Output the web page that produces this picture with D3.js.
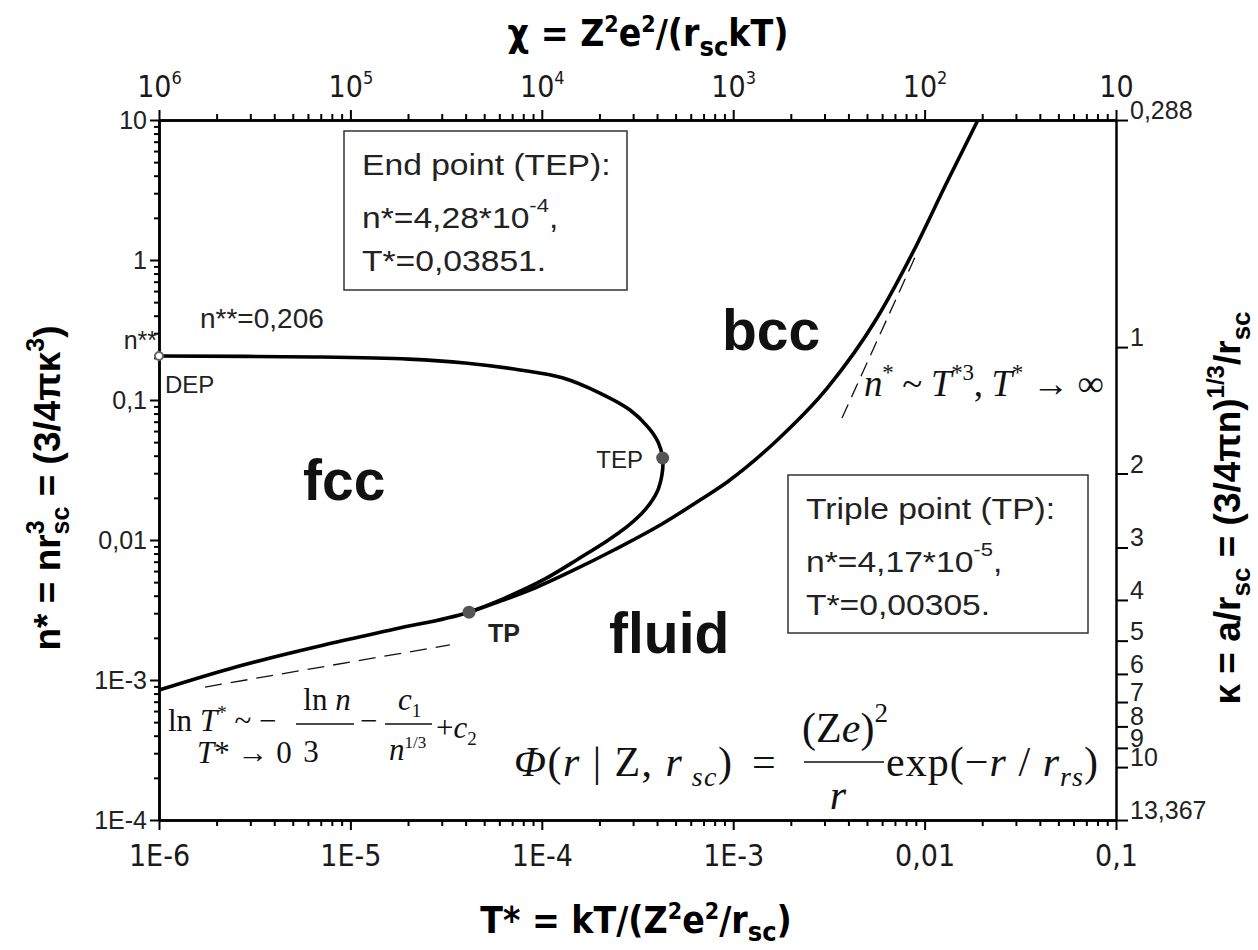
<!DOCTYPE html>
<html>
<head>
<meta charset="utf-8">
<script src="https://cdn.jsdelivr.net/npm/d3@7"></script>
<style>
  body { margin: 0; background: #fff; }
  svg { display: block; }
  .narrow { font-family: "Liberation Sans Narrow", "Arial Narrow", "DejaVu Sans Condensed", sans-serif; }
  .sans { font-family: "Liberation Sans", Arial, sans-serif; }
  .serif { font-family: "Liberation Serif", "Times New Roman", serif; }
</style>
</head>
<body>
<svg width="1258" height="950"></svg>
<script>
// melting line: left edge -> TP -> top edge (T*, n*)
const meltT = [1.0e-6, 2.52e-6, 7.28e-6, 1.71e-5, 4.17e-5, 6.42e-5, 9.33e-5, 1.42e-4, 2.41e-4, 4.20e-4, 6.71e-4, 9.39e-4, 1.69e-3, 3.09e-3, 5.64e-3, 8.70e-3, 1.31e-2, 1.90e-2];
const meltN = [8.48e-4, 1.24e-3, 1.78e-3, 2.31e-3, 3.05e-3, 3.76e-3, 4.58e-3, 5.96e-3, 8.55e-3, 1.29e-2, 1.93e-2, 2.62e-2, 5.14e-2, 0.121, 0.385, 1.14, 3.61, 10];

// fcc-bcc line: DEP -> TEP -> TP
const fccT = [1.0e-6, 6.45e-6, 2.02e-5, 3.97e-5, 7.69e-5, 1.28e-4, 2.01e-4, 2.89e-4, 3.59e-4, 4.05e-4, 4.28e-4, 4.25e-4, 4.00e-4, 3.46e-4, 2.82e-4, 2.19e-4, 1.58e-4, 1.04e-4, 6.42e-5, 4.17e-5];
const fccN = [0.206, 0.203, 0.196, 0.184, 0.164, 0.144, 0.112, 8.48e-2, 6.41e-2, 5.01e-2, 3.851e-2, 2.96e-2, 2.20e-2, 1.64e-2, 1.26e-2, 9.84e-3, 7.44e-3, 5.27e-3, 3.85e-3, 3.05e-3];

// asymptotes (dashed)
const lowAsymT = [1.74e-6, 3.31e-5];
const lowAsymN = [8.91e-4, 1.78e-3];
const highAsymT = [3.70e-3, 9.02e-3];
const highAsymN = [7.43e-2, 1.086];

// special points
const depPoint = [1.0e-6, 0.206];
const tepPoint = [4.28e-4, 0.03851];
const tpPoint = [4.17e-5, 3.05e-3];

// ticks
const tTicks = [1e-6, 1e-5, 1e-4, 1e-3, 1e-2, 1e-1];
const tLabels = ['1E-6', '1E-5', '1E-4', '1E-3', '0,01', '0,1'];
const nTicks = [1e-4, 1e-3, 1e-2, 1e-1, 1, 10];
const nLabels = ['1E-4', '1E-3', '0,01', '0,1', '1', '10'];
const chiTicks = [1e6, 1e5, 1e4, 1e3, 1e2, 10];
const chiExp = ['6', '5', '4', '3', '2', ''];
const kappaTicks = [0.288, 1, 2, 3, 4, 5, 6, 7, 8, 9, 10, 13.367];
const kappaLabels = ['0,288', '1', '2', '3', '4', '5', '6', '7', '8', '9', '10', '13,367'];

const svg = d3.select('svg');

const x = d3.scaleLog().domain([1e-6, 0.1]).range([159, 1116]);
const y = d3.scaleLog().domain([1e-4, 10]).range([820, 120]);
const chi = d3.scaleLog().domain([1e6, 10]).range([159, 1116]);
// kappa = (3/(4 pi n))^(1/3)
const kap = d3.scaleLog()
  .domain([Math.cbrt(3 / (4 * Math.PI * 10)), Math.cbrt(3 / (4 * Math.PI * 1e-4))])
  .range([120, 820]);

const minorT = [];
for (let e = -6; e < -1; e++) for (let k = 2; k <= 9; k++) minorT.push(k * Math.pow(10, e));
const minorN = [];
for (let e = -4; e < 1; e++) for (let k = 2; k <= 9; k++) minorN.push(k * Math.pow(10, e));

function styleAxis(g) {
  g.select('.domain').attr('stroke', '#000').attr('stroke-width', 2.5);
  g.selectAll('.tick line').attr('stroke', '#000').attr('stroke-width', 2);
}

// minor ticks
svg.append('g').attr('transform', 'translate(0 820)')
  .call(d3.axisBottom(x).tickValues(minorT).tickFormat('').tickSize(6).tickSizeOuter(0)).call(styleAxis);
svg.append('g').attr('transform', 'translate(0 120)')
  .call(d3.axisTop(x).tickValues(minorT).tickFormat('').tickSize(6).tickSizeOuter(0)).call(styleAxis);
svg.append('g').attr('transform', 'translate(159 0)')
  .call(d3.axisLeft(y).tickValues(minorN).tickFormat('').tickSize(5).tickSizeOuter(0)).call(styleAxis);

// bottom axis
const gx = svg.append('g').attr('transform', 'translate(0 820)')
  .call(d3.axisBottom(x).tickValues(tTicks).tickFormat((d, i) => tLabels[i]).tickSize(10).tickPadding(15).tickSizeOuter(0))
  .call(styleAxis);
gx.selectAll('.tick text').attr('class', 'narrow').attr('font-size', 30).attr('fill', '#1a1a1a');

// top axis (chi)
const gt = svg.append('g').attr('transform', 'translate(0 120)')
  .call(d3.axisTop(chi).tickValues(chiTicks).tickFormat('').tickSize(10).tickPadding(13).tickSizeOuter(0))
  .call(styleAxis);
gt.selectAll('.tick text').attr('class', 'narrow').attr('font-size', 30).attr('fill', '#1a1a1a')
  .each(function(d, i) {
    const t = d3.select(this);
    t.append('tspan').text('10');
    if (chiExp[i]) t.append('tspan').attr('dy', -13).attr('font-size', 18).text(chiExp[i]);
  });

// left axis
const gy = svg.append('g').attr('transform', 'translate(159 0)')
  .call(d3.axisLeft(y).tickValues(nTicks).tickFormat((d, i) => nLabels[i]).tickSize(9).tickPadding(3).tickSizeOuter(0))
  .call(styleAxis);
gy.selectAll('.tick text').attr('class', 'sans').attr('font-size', 25).attr('fill', '#222');

// right axis (kappa)
const gk = svg.append('g').attr('transform', 'translate(1116 0)')
  .call(d3.axisRight(kap).tickValues(kappaTicks).tickFormat((d, i) => kappaLabels[i]).tickSize(12).tickPadding(2).tickSizeOuter(0))
  .call(styleAxis);
gk.selectAll('.tick text').attr('class', 'sans').attr('font-size', 25).attr('fill', '#222').attr('dy', '-0.06em');

// curves
const line = d3.line().x(d => x(d[0])).y(d => y(d[1])).curve(d3.curveCatmullRom.alpha(0.5));
const smooth = d3.line().x(d => x(d[0])).y(d => y(d[1])).curve(d3.curveMonotoneX);
svg.append('path').datum(d3.zip(meltT, meltN)).attr('d', smooth)
  .attr('fill', 'none').attr('stroke', '#000').attr('stroke-width', 3.6);
svg.append('path').datum(d3.zip(fccT, fccN)).attr('d', line)
  .attr('fill', 'none').attr('stroke', '#000').attr('stroke-width', 3.6);

const straight = d3.line().x(d => x(d[0])).y(d => y(d[1]));
svg.append('path').datum(d3.zip(lowAsymT, lowAsymN)).attr('d', straight)
  .attr('fill', 'none').attr('stroke', '#111').attr('stroke-width', 1.3).attr('stroke-dasharray', '17,9');
svg.append('path').datum(d3.zip(highAsymT, highAsymN)).attr('d', straight)
  .attr('fill', 'none').attr('stroke', '#111').attr('stroke-width', 1.3).attr('stroke-dasharray', '15,8');

// points
svg.append('circle').attr('cx', x(depPoint[0])).attr('cy', y(depPoint[1])).attr('r', 4)
  .attr('fill', '#fff').attr('stroke', '#666').attr('stroke-width', 2);
[tepPoint, tpPoint].forEach(p => {
  svg.append('circle').attr('cx', x(p[0])).attr('cy', y(p[1])).attr('r', 6.5).attr('fill', '#555');
});

// helper for rich text with sub/superscripts
function rich(sel, parts) {
  let shift = 0;
  parts.forEach(p => {
    const ts = sel.append('tspan').text(p.t);
    const s = p.s || 0;
    if (s !== shift) ts.attr('dy', shift - s);
    shift = s;
    if (p.size) ts.attr('font-size', p.size);
    if (p.it) ts.attr('font-style', 'italic');
    if (p.dx) ts.attr('dx', p.dx);
  });
  return sel;
}

// axis titles
rich(svg.append('text').attr('class', 'narrow').attr('font-weight', 'bold').attr('font-size', 37)
  .attr('x', 648).attr('y', 46).attr('text-anchor', 'middle'),
  [{t: 'χ = Z'}, {t: '2', s: 14, size: 23}, {t: 'e'}, {t: '2', s: 14, size: 23}, {t: '/(r'},
   {t: 'sc', s: -10, size: 27}, {t: 'kT)'}]);

rich(svg.append('text').attr('class', 'narrow').attr('font-weight', 'bold').attr('font-size', 37)
  .attr('x', 636).attr('y', 933).attr('text-anchor', 'middle'),
  [{t: 'T* = kT/(Z'}, {t: '2', s: 14, size: 23}, {t: 'e'}, {t: '2', s: 14, size: 23}, {t: '/r'},
   {t: 'sc', s: -8, size: 27}, {t: ')'}]);

rich(svg.append('text').attr('class', 'sans').attr('font-weight', 'bold').attr('font-size', 37)
  .attr('text-anchor', 'middle').attr('transform', 'translate(60 488) rotate(-90)'),
  [{t: 'n* = nr'}, {t: '3', s: 16, size: 25}, {t: 'sc', s: -9, size: 25, dx: -14}, {t: ' = (3/4πκ'},
   {t: '3', s: 16, size: 25}, {t: ')'}]);

rich(svg.append('text').attr('class', 'sans').attr('font-weight', 'bold').attr('font-size', 37)
  .attr('text-anchor', 'middle').attr('transform', 'translate(1240 508) rotate(-90)'),
  [{t: 'κ = a/r'}, {t: 'sc', s: -10, size: 26}, {t: ' = (3/4πn)'}, {t: '1/3', s: 16, size: 24},
   {t: '/r'}, {t: 'sc', s: -10, size: 26}]);

// point labels
svg.append('text').attr('class', 'sans').attr('font-size', 25).attr('fill', '#222')
  .attr('x', 157).attr('y', 349).attr('text-anchor', 'end').text('n**');
svg.append('text').attr('class', 'sans').attr('font-size', 28).attr('fill', '#222')
  .attr('x', 200).attr('y', 328).text('n**=0,206');
svg.append('text').attr('class', 'sans').attr('font-size', 24).attr('fill', '#222')
  .attr('x', 165).attr('y', 393).text('DEP');
svg.append('text').attr('class', 'sans').attr('font-size', 24).attr('fill', '#222')
  .attr('x', 643).attr('y', 468).attr('text-anchor', 'end').text('TEP');
svg.append('text').attr('class', 'sans').attr('font-size', 25).attr('font-weight', 'bold').attr('fill', '#222')
  .attr('x', 488).attr('y', 642).text('TP');

// phase labels
[['fcc', 303, 500], ['bcc', 722, 350], ['fluid', 609, 653]].forEach(([t, px, py]) => {
  svg.append('text').attr('class', 'sans').attr('font-weight', 'bold').attr('font-size', 57)
    .attr('fill', '#111').attr('x', px).attr('y', py).text(t);
});

// info boxes
function boxLine(tx, ty) {
  return svg.append('text').attr('class', 'sans').attr('font-size', 29).attr('fill', '#222')
    .attr('transform', `translate(${tx} ${ty}) scale(1.16 1)`);
}
function infoBox(bx, by, bw, bh, title, nVal, nExp, tVal) {
  svg.append('rect').attr('x', bx).attr('y', by).attr('width', bw).attr('height', bh)
    .attr('fill', '#fff').attr('stroke', '#333').attr('stroke-width', 1.5);
  const tx = bx + 18;
  boxLine(tx, by + 44).text(title);
  rich(boxLine(tx, by + 97), [{t: 'n*=' + nVal + '*10'}, {t: nExp, s: 16, size: 19}, {t: ','}]);
  boxLine(tx, by + 140).text('T*=' + tVal);
}
infoBox(344, 131, 283, 159, 'End point (TEP):', '4,28', '-4', '0,03851.');
infoBox(788, 475, 300, 158, 'Triple point (TP):', '4,17', '-5', '0,00305.');

// formulas
rich(svg.append('text').attr('class', 'serif').attr('font-size', 37).attr('fill', '#111')
  .attr('x', 864).attr('y', 396).attr('textLength', 240).attr('lengthAdjust', 'spacing'),
  [{t: 'n', it: true}, {t: '*', s: 16, size: 23}, {t: ' ~ '}, {t: 'T', it: true}, {t: '*3', s: 16, size: 23},
   {t: ', '}, {t: 'T', it: true}, {t: '*', s: 16, size: 23}, {t: ' → ∞'}]);

const fl = svg.append('g').attr('class', 'serif').attr('fill', '#111');
rich(fl.append('text').attr('font-size', 31).attr('x', 168).attr('y', 731),
  [{t: 'ln '}, {t: 'T', it: true}, {t: '*', s: 12, size: 19}, {t: ' ~ −'}]);
rich(fl.append('text').attr('font-size', 31).attr('x', 327).attr('y', 710).attr('text-anchor', 'middle'),
  [{t: 'ln '}, {t: 'n', it: true}]);
fl.append('line').attr('x1', 296).attr('x2', 354).attr('y1', 724).attr('y2', 724).attr('stroke', '#111').attr('stroke-width', 1.3);
fl.append('text').attr('font-size', 31).attr('x', 311).attr('y', 762).attr('text-anchor', 'middle').text('3');
fl.append('text').attr('font-size', 31).attr('x', 360).attr('y', 731).text('−');
rich(fl.append('text').attr('font-size', 31).attr('x', 398).attr('y', 710),
  [{t: 'c', it: true}, {t: '1', s: -7, size: 19}]);
fl.append('line').attr('x1', 385).attr('x2', 432).attr('y1', 724).attr('y2', 724).attr('stroke', '#111').attr('stroke-width', 1.3);
rich(fl.append('text').attr('font-size', 31).attr('x', 389).attr('y', 760),
  [{t: 'n', it: true}, {t: '1/3', s: 12, size: 17}]);
rich(fl.append('text').attr('font-size', 31).attr('x', 436).attr('y', 738),
  [{t: '+'}, {t: 'c', it: true}, {t: '2', s: -7, size: 19}]);
rich(fl.append('text').attr('font-size', 31).attr('x', 197).attr('y', 763),
  [{t: 'T', it: true}, {t: '* '}, {t: '→'}, {t: ' 0'}]);

// potential formula
rich(fl.append('text').attr('font-size', 42).attr('x', 514).attr('y', 776)
  .attr('textLength', 218).attr('lengthAdjust', 'spacing'),
  [{t: 'Φ', it: true}, {t: '('}, {t: 'r', it: true}, {t: ' | Z, '}, {t: 'r', it: true},
   {t: ' sc', it: true, s: -10, size: 28}, {t: ')'}]);
fl.append('text').attr('font-size', 42).attr('x', 752).attr('y', 776).text('=');
rich(fl.append('text').attr('font-size', 42).attr('x', 845).attr('y', 742).attr('text-anchor', 'middle'),
  [{t: '(Z'}, {t: 'e', it: true}, {t: ')'}, {t: '2', s: 20, size: 27}]);
fl.append('line').attr('x1', 804).attr('x2', 884).attr('y1', 762).attr('y2', 762).attr('stroke', '#111').attr('stroke-width', 1.6);
fl.append('text').attr('font-size', 42).attr('font-style', 'italic').attr('x', 838).attr('y', 809).attr('text-anchor', 'middle').text('r');
rich(fl.append('text').attr('font-size', 42).attr('x', 886).attr('y', 776)
  .attr('textLength', 212).attr('lengthAdjust', 'spacing'),
  [{t: 'exp(−'}, {t: 'r', it: true}, {t: ' / '}, {t: 'r', it: true}, {t: 'rs', it: true, s: -10, size: 28}, {t: ')'}]);
</script>
</body>
</html>
